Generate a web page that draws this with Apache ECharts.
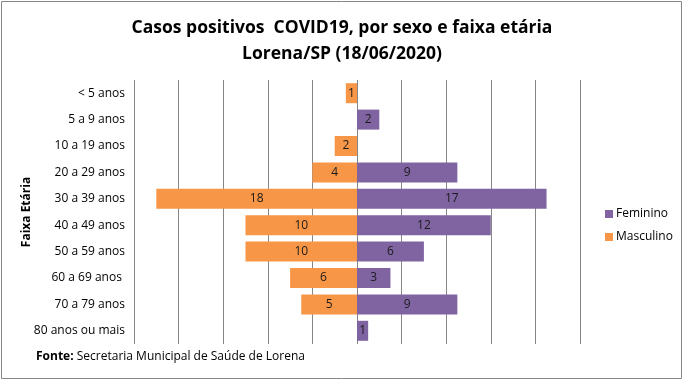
<!DOCTYPE html>
<html><head><meta charset="utf-8">
<script src="https://cdn.jsdelivr.net/npm/echarts@6/dist/echarts.min.js"></script>
<style>html,body{margin:0;padding:0;background:#fff}#c{width:684px;height:381px}</style>
</head><body><div id="c"></div>
<script>
const categories = ["< 5 anos","5 a 9 anos","10 a 19 anos","20 a 29 anos","30 a 39 anos","40 a 49 anos","50 a 59 anos","60 a 69 anos ","70 a 79 anos","80 anos ou mais"];
const feminino = [0,2,0,9,17,12,6,3,9,1];
const masculino = [1,0,2,4,18,10,10,6,5,0];
const xTicks = {min:-20, max:20, interval:4};

const FONT = '"Open Sans", "Noto Sans", sans-serif';
const chart = echarts.init(document.getElementById('c'), null, {renderer:'canvas'});
const lbl = {show:true, position:'inside', color:'#1a1a1a', fontSize:12, fontFamily:FONT,
  formatter: p => p.value === 0 ? '' : String(Math.abs(p.value))};
chart.setOption({
  backgroundColor:'#fff',
  animation:false,
  title:{text:'Casos positivos  COVID19, por sexo e faixa etária\nLorena/SP (18/06/2020)', left:'center', top:10,
    textStyle:{fontFamily:FONT, fontWeight:'bold', fontSize:17.5, lineHeight:26, color:'#000'}},
  legend:{orient:'vertical', left:600, top:203, itemWidth:8, itemHeight:8, itemGap:11,
    data:['Feminino','Masculino'], icon:'rect',
    textStyle:{fontFamily:FONT, fontSize:12, color:'#000', padding:[0,0,0,-2]}},
  grid:{left:134, right:104, top:80, bottom:37},
  xAxis:{type:'value', min:xTicks.min, max:xTicks.max, interval:xTicks.interval,
    axisLabel:{show:false}, axisTick:{show:false}, axisLine:{show:false},
    splitLine:{show:true, lineStyle:{color:'#868686', width:1}}},
  yAxis:{type:'category', data:categories, inverse:true,
    axisTick:{show:false}, axisLine:{show:false},
    axisLabel:{fontFamily:FONT, fontSize:12, color:'#000', margin:9}},
  series:[
    {name:'Feminino', type:'bar', data:feminino, barWidth:20, barGap:'-100%',
      itemStyle:{color:'#8064A2'}, label:lbl},
    {name:'Masculino', type:'bar', data:masculino.map(v=>-v), barWidth:20,
      itemStyle:{color:'#F79646'}, label:lbl}
  ],
  graphic:[
    {type:'rect', shape:{x:1.5, y:1.5, width:680, height:377}, style:{fill:null, stroke:'#868686', lineWidth:1}, silent:true},
    {type:'text', x:27, y:212, rotation:Math.PI/2, silent:true,
      style:{text:'Faixa Etária', font:'bold 12px ' + FONT, fill:'#000', align:'center', verticalAlign:'middle'}},
    {type:'text', left:36, top:351, style:{text:'{b|Fonte:} Secretaria Municipal de Saúde de Lorena',
      rich:{b:{fontWeight:'bold', fontFamily:FONT, fontSize:12, fill:'#000'}},
      font:'12px ' + FONT, fill:'#000'}}
  ]
});
</script></body></html>
